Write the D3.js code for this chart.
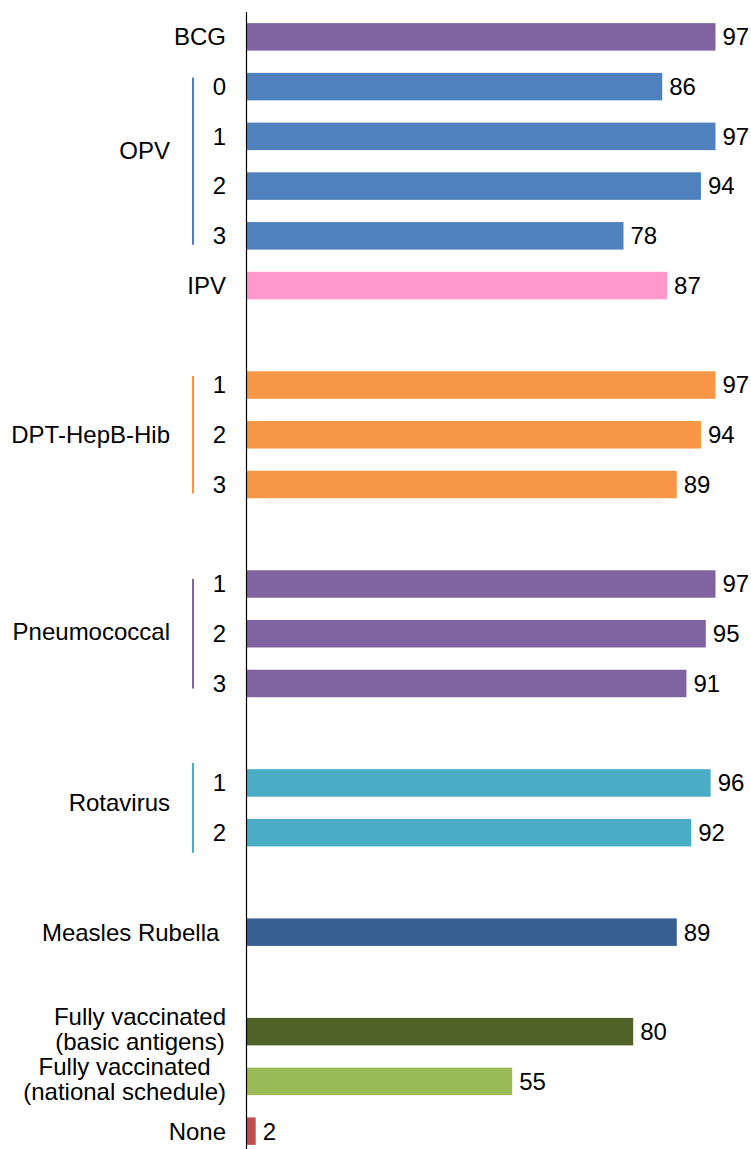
<!DOCTYPE html>
<html>
<head>
<meta charset="utf-8">
<script src="https://cdn.jsdelivr.net/npm/d3@7/dist/d3.min.js"></script>
<style>
  html, body { margin: 0; padding: 0; background: #fff; }
  svg { display: block; }
  text { font-family: "Liberation Sans", Arial, sans-serif; fill: #000; }
</style>
</head>
<body>
<svg id="chart" width="751" height="1149"></svg>
<script>
// ---- data ----
const rowLabels = ["BCG", "0", "1", "2", "3", "IPV", "",
  "1", "2", "3", "",
  "1", "2", "3", "",
  "1", "2", "",
  "Measles Rubella\u00A0", "",
  "Fully vaccinated\n(basic antigens)", "Fully vaccinated\n(national schedule)", "None"];
const values = [97, 86, 97, 94, 78, 87, null,
  97, 94, 89, null,
  97, 95, 91, null,
  96, 92, null,
  89, null,
  80, 55, 2];
const rowColors = ["#8064A2", "#4F81BD", "#4F81BD", "#4F81BD", "#4F81BD", "#FF99CC", null,
  "#F79646", "#F79646", "#F79646", null,
  "#8064A2", "#8064A2", "#8064A2", null,
  "#4BACC6", "#4BACC6", null,
  "#366092", null,
  "#4F6228", "#9BBB59", "#C0504D"];
const groupNames = ["OPV", "DPT-HepB-Hib", "Pneumococcal", "Rotavirus"];
const groupFirst = [1, 7, 11, 15];
const groupLast = [4, 9, 13, 16];
const groupColors = ["#4F81BD", "#F79646", "#8064A2", "#4BACC6"];

// ---- layout (style) ----
const bracketPad = [9, 9, 5, 20];
const groupLabelShift = [-11, 0, -2, -5];
const fontSize = 24;

const svg = d3.select("#chart");
const ids = rowLabels.map((d, i) => i);

const y = d3.scaleBand().domain(ids).range([12, 1156]).paddingInner(0.447).paddingOuter(0.2235);
const x = d3.scaleLinear().domain([0, 100]).range([246, 730]);

// bars
const rows = ids.filter(i => values[i] !== null);
svg.append("g").selectAll("rect").data(rows).join("rect")
  .attr("x", x(0))
  .attr("y", i => y(i))
  .attr("width", i => x(values[i]) - x(0))
  .attr("height", y.bandwidth())
  .attr("fill", i => rowColors[i]);

// value labels
svg.append("g").selectAll("text").data(rows).join("text")
  .attr("x", i => x(values[i]) + 7)
  .attr("y", i => y(i) + y.bandwidth() / 2)
  .attr("dy", "0.35em")
  .attr("font-size", fontSize)
  .text(i => values[i]);

// axis line
svg.append("line")
  .attr("x1", x(0) + 0.5).attr("x2", x(0) + 0.5)
  .attr("y1", y.range()[0]).attr("y2", y.range()[1])
  .attr("stroke", "#000").attr("stroke-width", 1.2);

// row labels
const labelRight = 226;
const lineH = 24.5;
const lg = svg.append("g");
ids.filter(i => rowLabels[i] !== "").forEach(i => {
  const lines = rowLabels[i].split("\n");
  const cy = y(i) + y.bandwidth() / 2;
  if (lines.length === 1) {
    lg.append("text")
      .attr("x", labelRight)
      .attr("y", cy)
      .attr("dy", "0.35em")
      .attr("text-anchor", "end")
      .attr("font-size", fontSize)
      .text(lines[0]);
  } else {
    const t = lg.append("text")
      .attr("font-size", fontSize)
      .attr("text-anchor", "middle");
    const spans = lines.map((l, k) => t.append("tspan").text(l));
    const w = d3.max(spans, s => s.node().getComputedTextLength());
    const cx = labelRight - w / 2;
    spans.forEach((s, k) => {
      s.attr("x", cx).attr("y", cy + 6 + (k - (lines.length - 1) / 2) * lineH);
    });
  }
});

// group brackets and labels
groupNames.forEach((g, k) => {
  const top = y(groupFirst[k]) + y.bandwidth() / 2 - bracketPad[k];
  const bot = y(groupLast[k]) + y.bandwidth() / 2 + bracketPad[k];
  svg.append("line")
    .attr("x1", 193).attr("x2", 193)
    .attr("y1", top).attr("y2", bot)
    .attr("stroke", groupColors[k]).attr("stroke-width", 2);
  const mid = (y(groupFirst[k]) + y(groupLast[k]) + y.bandwidth()) / 2;
  svg.append("text")
    .attr("x", 170)
    .attr("y", mid + groupLabelShift[k])
    .attr("dy", "0.35em")
    .attr("text-anchor", "end")
    .attr("font-size", fontSize)
    .text(g);
});
</script>
</body>
</html>
